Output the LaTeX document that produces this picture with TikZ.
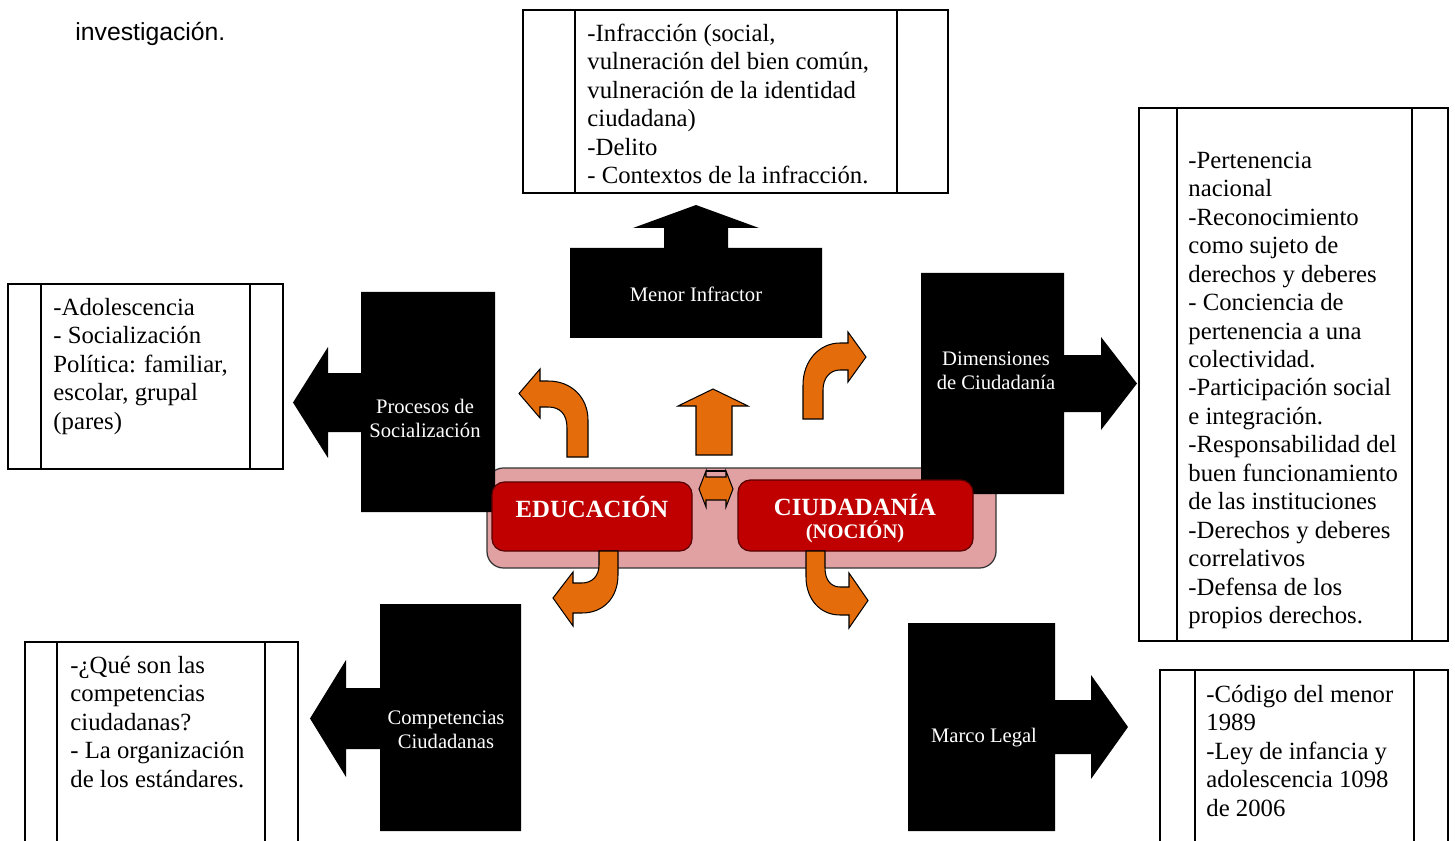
\documentclass[tikz,border=0pt]{standalone}
\usepackage{fontspec}
\setmainfont{Liberation Serif}
\newfontfamily\arialfont{Liberation Sans}
\usepackage{xcolor}
\definecolor{pinkbg}{RGB}{225,160,162}
\definecolor{redcore}{RGB}{192,0,0}
\definecolor{orangearr}{RGB}{228,108,10}

\begin{document}
\begin{tikzpicture}[x=0.485pt,y=-0.485pt,
	infobox/.style={draw,line width=0.75pt},
	infotext/.style={anchor=north west,inner sep=0pt,align=left,font=\fontsize{12}{13.8}\selectfont},
	callout/.style={fill=black},
	calltext/.style={text=white,align=center,inner sep=0pt,font=\fontsize{10}{11.6}\selectfont},
	blockarrow/.style={fill=orangearr,draw=black,line width=0.5pt,line join=miter},
	core/.style={fill=redcore,draw=red!35!black,line width=0.6pt,rounded corners=6pt},
	coretext/.style={text=white,inner sep=0pt,font=\bfseries\fontsize{12}{13.8}\selectfont}]
	\useasboundingbox (0,0) rectangle (1455,841);
	\node[anchor=base west,inner sep=0pt,font=\arialfont\fontsize{12}{13.8}\selectfont] (intro) at (75,41) {investigación.};

	% centro
	\filldraw[fill=pinkbg,draw=black!80,line width=0.6pt,rounded corners=8pt] (487,468) rectangle (996,568);

	% cajas negras
	\fill[callout] (495,292) -- (361,292) -- (361,373) -- (328,373) -- (328,347) -- (293,402.5) -- (328,458) -- (328,432) -- (361,432) -- (361,512) -- (495,512) -- cycle;
	\fill[callout] (570,248) -- (664,248) -- (664,228) -- (633,228) -- (696,205) -- (759,228) -- (728,228) -- (728,248) -- (822,248) -- (822,338) -- (570,338) -- cycle;
	\fill[callout] (921,273) -- (1064,273) -- (1064,355) -- (1101,355) -- (1101,337) -- (1137,383.5) -- (1101,430) -- (1101,412) -- (1064,412) -- (1064,494) -- (921,494) -- cycle;
	\fill[callout] (521,604) -- (380,604) -- (380,688) -- (346,688) -- (346,660) -- (310,718.5) -- (346,777) -- (346,749) -- (380,749) -- (380,831) -- (521,831) -- cycle;
	\fill[callout] (908,623) -- (1055,623) -- (1055,700) -- (1091,700) -- (1091,675) -- (1128,727) -- (1091,779) -- (1091,754) -- (1055,754) -- (1055,831) -- (908,831) -- cycle;

	\node[calltext] (procesos) at (425,418) {Procesos de\\Socialización};
	\node[calltext] (menor) at (696,294) {Menor Infractor};
	\node[calltext] (dimensiones) at (996,371) {Dimensiones\\de Ciudadanía};
	\node[calltext] (competencias) at (446,730) {Competencias\\Ciudadanas};
	\node[calltext] (marco) at (984,738) {Marco Legal};

	% nociones
	\path[core] (492,482) rectangle (692,551);
	\path[core] (738,480) rectangle (973,551);
	\node[coretext] (educacion) at (592,507) {EDUCACIÓN};
	\node[coretext] (ciudadania) at (855,505) {CIUDADANÍA};
	\node[coretext,font=\bfseries\fontsize{10}{12}\selectfont] (nocion) at (855,532) {(NOCIÓN)};

	% flechas naranjas
	\draw[blockarrow] (567,457) -- (567,428) .. controls (567,414) and (560,407) .. (548,407) -- (540,407) -- (540,418) -- (519,393.5) -- (540,369) -- (540,381) -- (548,381) .. controls (572,381) and (588,398) .. (588,420) -- (588,457) -- cycle;
	\draw[blockarrow] (696,455) -- (696,406) -- (678,406) -- (713,389) -- (748,406) -- (732,406) -- (732,455) -- cycle;
	\draw[blockarrow] (803,419) -- (803,385) .. controls (803,360) and (820,343) .. (840,343) -- (848,343) -- (848,332) -- (866,357) -- (848,382) -- (848,370) -- (840,370) .. controls (830,370) and (823,378) .. (823,390) -- (823,419) -- cycle;
	\draw[blockarrow] (699,489) -- (706,471) -- (706,477) -- (726,477) -- (726,471) -- (733,489) -- (726,507) -- (726,500) -- (706,500) -- (706,507) -- cycle;
	\draw[line width=0.5pt] (706,471) -- (726,471);
	\draw[blockarrow] (599,551) -- (599,565) .. controls (599,576) and (592,583) .. (582,583) -- (573,583) -- (573,572) -- (553,598) -- (573,626) -- (573,613) -- (582,613) .. controls (604,613) and (618,597) .. (618,575) -- (618,551) -- cycle;
	\draw[blockarrow] (806,551) -- (806,577) .. controls (806,599) and (820,615) .. (840,615) -- (849,615) -- (849,628) -- (868,600.5) -- (849,573) -- (849,587) -- (840,587) .. controls (831,587) and (825,580) .. (825,568) -- (825,551) -- cycle;

	% cuadros de texto
	\draw[infobox] (523,10) rectangle (948,193) (575,10) -- (575,193) (897,10) -- (897,193);
	\node[infotext] (infraccion) at (587,21) {\strut-Infracción (social,\\vulneración del bien común,\\vulneración de la identidad\\ciudadana)\\-Delito\\- Contextos de la infracción.};

	\draw[infobox] (8,284) rectangle (283,469) (41,284) -- (41,469) (250,284) -- (250,469);
	\node[infotext] (adolescencia) at (53,295) {\strut-Adolescencia\\- Socialización\\Política: familiar,\\escolar, grupal\\(pares)};

	\draw[infobox] (1139,108) rectangle (1448,641) (1177,108) -- (1177,641) (1412,108) -- (1412,641);
	\node[infotext] (pertenencia) at (1188,148) {\strut-Pertenencia\\nacional\\-Reconocimiento\\como sujeto de\\derechos y deberes\\- Conciencia de\\pertenencia a una\\colectividad.\\-Participación social\\e integración.\\-Responsabilidad del\\buen funcionamiento\\de las instituciones\\-Derechos y deberes\\correlativos\\-Defensa de los\\propios derechos.};

	\draw[infobox] (25,841) -- (25,642) -- (298,642) -- (298,841) (57,642) -- (57,841) (265,642) -- (265,841);
	\node[infotext] (queson) at (70,653) {\strut-¿Qué son las\\competencias\\ciudadanas?\\- La organización\\de los estándares.};

	\draw[infobox] (1160,841) -- (1160,670) -- (1448,670) -- (1448,841) (1195,670) -- (1195,841) (1414,670) -- (1414,841);
	\node[infotext] (codigo) at (1206,682) {\strut-Código del menor\\1989\\-Ley de infancia y\\adolescencia 1098\\de 2006};
\end{tikzpicture}
\end{document}
